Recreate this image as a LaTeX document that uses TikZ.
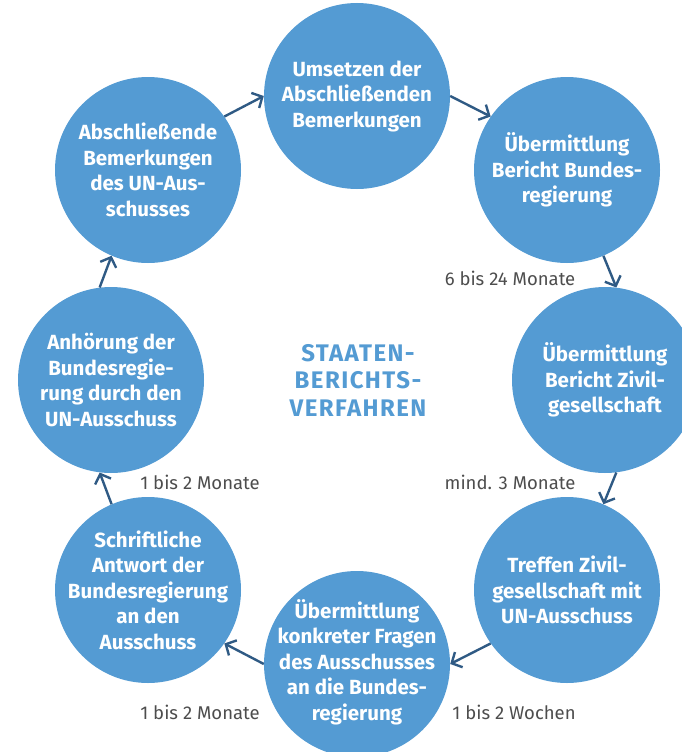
\documentclass[tikz,border=0pt]{standalone}
\usepackage{fontspec}
\setmainfont{Fira Sans}
\usetikzlibrary{arrows.meta}
\definecolor{stepblue}{HTML}{549BD3}
\definecolor{arrowblue}{HTML}{2F5A84}
\definecolor{labelgray}{HTML}{4D4D4D}
\tikzset{
  stage/.style={circle, fill=stepblue, minimum size=186pt, inner sep=0pt},
  stagetext/.style={text=white, align=center, inner sep=0pt,
    font=\fontsize{20.5}{25.5}\selectfont\bfseries},
  flow/.style={draw=arrowblue, line width=2.4pt,
    -{Straight Barb[length=8pt, width=17pt, line width=2.4pt]}},
  duration/.style={text=labelgray, font=\fontsize{18.5}{20}\selectfont, inner sep=0pt},
  title/.style={text=stepblue, align=center,
    font=\fontsize{24}{27.5}\selectfont\bfseries\addfontfeatures{LetterSpace=6}}
}
\begin{document}
\begin{tikzpicture}[x=1pt, y=-1pt]
  \useasboundingbox (0,0) rectangle (681,752);

  % the eight stages of the reporting cycle
  \node[stage] (c1) at (357,96)  {};
  \node[stage] (c2) at (567,170) {};
  \node[stage] (c3) at (605,380) {};
  \node[stage] (c4) at (567,590) {};
  \node[stage] (c5) at (357,664) {};
  \node[stage] (c6) at (148,590) {};
  \node[stage] (c7) at (111,380) {};
  \node[stage] (c8) at (148,170) {};

  % their captions
  \node[stagetext] (c1t) at (c1) {Umsetzen der\\Abschließenden\\Bemerkungen};
  \node[stagetext] (c2t) at (c2) {Übermittlung\\Bericht Bundes-\\regierung};
  \node[stagetext] (c3t) at (c3) {Übermittlung\\Bericht Zivil-\\gesellschaft};
  \node[stagetext] (c4t) at (c4) {Treffen Zivil-\\gesellschaft mit\\UN-Ausschuss};
  \node[stagetext] (c5t) at ([yshift=2pt]c5) {Übermittlung\\konkreter Fragen\\des Ausschusses\\an die Bundes-\\regierung};
  \node[stagetext] (c6t) at (c6) {Schriftliche\\Antwort der\\Bundesregierung\\an den\\Ausschuss};
  \node[stagetext] (c7t) at (c7) {Anhörung der\\Bundesregie-\\rung durch den\\UN-Ausschuss};
  \node[stagetext] (c8t) at (c8) {Abschließende\\Bemerkungen\\des UN-Aus-\\schusses};

  % centre title
  \node[title] (t) at (358,380) {STAATEN-\\BERICHTS-\\VERFAHREN};

  % arrows between stages
  \draw[flow] (c1.0)    -- (c2.145);
  \draw[flow] (c2.-67)  -- (c3.83);
  \draw[flow] (c3.-83)  -- (c4.67);
  \draw[flow] (c4.-145) -- (c5.0);
  \draw[flow] (c5.180)  -- (c6.-35);
  \draw[flow] (c6.113)  -- (c7.-97);
  \draw[flow] (c7.97)   -- (c8.-113);
  \draw[flow] (c8.35)   -- (c1.180);

  % durations
  \node[duration] (d1) at (510,278) {6 bis 24 Monate};
  \node[duration] (d2) at (510,482) {mind. 3 Monate};
  \node[duration] (d3) at (514,712) {1 bis 2 Wochen};
  \node[duration] (d4) at (200,712) {1 bis 2 Monate};
  \node[duration] (d5) at (200,482) {1 bis 2 Monate};
\end{tikzpicture}
\end{document}
